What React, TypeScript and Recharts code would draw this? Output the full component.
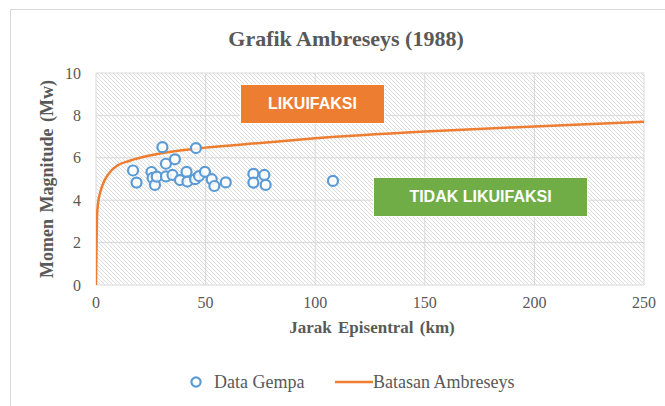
import React from "react";
import {
  ComposedChart,
  Scatter,
  Line,
  XAxis,
  YAxis,
  CartesianGrid,
} from "recharts";

// Earthquake data
const distanceKm = [
  16.9, 18.5, 30.3, 45.6, 25.3, 25.8, 26.9, 27.7, 31.9, 36.0, 31.9, 34.9, 38.3,
  41.3, 41.7, 45.2, 47.0, 49.7, 52.8, 54.0, 59.2, 71.8, 76.8, 71.8, 77.4, 108.1,
];
const magnitudeMw = [
  5.4, 4.83, 6.5, 6.46, 5.33, 5.05, 4.72, 5.11, 5.72, 5.93, 5.12, 5.19, 4.95,
  5.34, 4.88, 4.99, 5.14, 5.34, 4.99, 4.67, 4.84, 5.24, 5.19, 4.83, 4.72, 4.91,
];

// Ambraseys boundary curve
const curveKm = [0, 0.5, 1, 2, 4, 7, 10, 15, 25, 35, 50, 75, 100, 150, 200, 250];
const curveMw = [0, 3.3, 3.9, 4.4, 4.95, 5.4, 5.65, 5.85, 6.12, 6.3, 6.48, 6.7, 6.92, 7.24, 7.48, 7.7];

const xTicks = [0, 50, 100, 150, 200, 250];
const yTicks = [0, 2, 4, 6, 8, 10];

const scatterData = distanceKm.map((x, i) => ({ x, y: magnitudeMw[i] }));
const curveData = curveKm.map((x, i) => ({ x, y: curveMw[i] }));

const SERIF = '"Liberation Serif", "Times New Roman", serif';
const GRAY = "#595959";
const BLUE = "#5B9BD5";
const ORANGE = "#ED7D31";
const GREEN = "#70AD47";

const HollowCircle = (props: any) => {
  const { cx, cy } = props;
  if (cx == null || cy == null) return null;
  return <circle cx={cx} cy={cy} r={5} fill="#ffffff" fillOpacity={0.85} stroke={BLUE} strokeWidth={2.2} />;
};

export default function App() {
  return (
    <div
      style={{
        position: "absolute",
        left: 0,
        top: 0,
        width: 665,
        height: 406,
        overflow: "hidden",
        background: "#ffffff",
      }}
    >
      <div
        style={{
          position: "absolute",
          left: 10,
          top: 9,
          width: 720,
          height: 440,
          border: "1px solid #d9d9d9",
        }}
      />
      <ComposedChart
        width={665}
        height={406}
        margin={{ top: 73, right: 21, left: 66, bottom: 91 }}
        style={{ position: "absolute", left: 0, top: 0 }}
      >
        <defs>
          <pattern id="hatch" patternUnits="userSpaceOnUse" width={4} height={4}>
            <rect width={4} height={4} fill="#ffffff" />
            <path d="M0,0 L4,4 M-1,3 L1,5 M3,-1 L5,1" stroke="#dcdcdc" strokeWidth={1} />
          </pattern>
        </defs>
        <CartesianGrid stroke="#d9d9d9" fill="url(#hatch)" fillOpacity={1} />
        <XAxis
          type="number"
          dataKey="x"
          domain={[0, 250]}
          ticks={xTicks}
          axisLine={false}
          tickLine={false}
          tickSize={0}
          tickMargin={12}
          height={30}
          tick={{ fill: GRAY, fontSize: 16, fontFamily: SERIF }}
          allowDataOverflow
        />
        <YAxis
          type="number"
          dataKey="y"
          domain={[0, 10]}
          ticks={yTicks}
          axisLine={false}
          tickLine={false}
          tickSize={0}
          tickMargin={15}
          width={30}
          tick={{ fill: GRAY, fontSize: 16, fontFamily: SERIF }}
        />
        <Line
          data={curveData}
          dataKey="y"
          type="monotone"
          stroke={ORANGE}
          strokeWidth={2.5}
          dot={false}
          activeDot={false}
          isAnimationActive={false}
          name="Batasan Ambreseys"
        />
        <Scatter
          data={scatterData}
          dataKey="y"
          shape={HollowCircle}
          isAnimationActive={false}
          name="Data Gempa"
        />
      </ComposedChart>

      <div
        style={{
          position: "absolute",
          left: 0,
          width: 692,
          top: 26,
          textAlign: "center",
          fontFamily: SERIF,
          fontWeight: "bold",
          fontSize: 22,
          color: GRAY,
          lineHeight: "26px",
        }}
      >
        Grafik Ambreseys (1988)
      </div>
      <div
        style={{
          position: "absolute",
          left: 96,
          width: 552,
          top: 317,
          textAlign: "center",
          fontFamily: SERIF,
          fontWeight: "bold",
          fontSize: 17,
          color: GRAY,
          lineHeight: "22px",
          wordSpacing: 2,
        }}
      >
        Jarak Episentral (km)
      </div>
      <div
        style={{
          position: "absolute",
          left: 47 - 120,
          top: 179 - 11,
          width: 240,
          height: 22,
          transform: "rotate(-90deg)",
          textAlign: "center",
          fontFamily: SERIF,
          fontWeight: "bold",
          fontSize: 18,
          color: GRAY,
          lineHeight: "22px",
          wordSpacing: 2,
        }}
      >
        Momen Magnitude (Mw)
      </div>

      {/* Legend */}
      <div
        style={{
          position: "absolute",
          left: 0,
          top: 370,
          width: 665,
          height: 24,
          fontFamily: SERIF,
          fontSize: 18,
          color: GRAY,
        }}
      >
        <svg width={14} height={14} style={{ position: "absolute", left: 189, top: 5 }}>
          <circle cx={7} cy={7} r={4.6} fill="none" stroke={BLUE} strokeWidth={2.2} />
        </svg>
        <span style={{ position: "absolute", left: 214, top: 0, lineHeight: "24px" }}>Data Gempa</span>
        <svg width={38} height={10} style={{ position: "absolute", left: 335, top: 7 }}>
          <line x1={0} y1={5} x2={38} y2={5} stroke={ORANGE} strokeWidth={2.5} />
        </svg>
        <span style={{ position: "absolute", left: 373, top: 0, lineHeight: "24px" }}>Batasan Ambreseys</span>
      </div>

      <div
        style={{
          position: "absolute",
          left: 240,
          top: 84,
          width: 145,
          height: 40,
          boxSizing: "border-box",
          background: ORANGE,
          border: "1.5px solid #ffffff",
          display: "flex",
          alignItems: "center",
          justifyContent: "center",
          fontFamily: '"Liberation Sans", Arial, sans-serif',
          fontWeight: "bold",
          fontSize: 16,
          color: "#ffffff",
        }}
      >
        LIKUIFAKSI
      </div>
      <div
        style={{
          position: "absolute",
          left: 373,
          top: 177,
          width: 215,
          height: 40,
          boxSizing: "border-box",
          background: GREEN,
          border: "1.5px solid #ffffff",
          display: "flex",
          alignItems: "center",
          justifyContent: "center",
          fontFamily: '"Liberation Sans", Arial, sans-serif',
          fontWeight: "bold",
          fontSize: 16,
          color: "#ffffff",
        }}
      >
        TIDAK LIKUIFAKSI
      </div>
    </div>
  );
}
